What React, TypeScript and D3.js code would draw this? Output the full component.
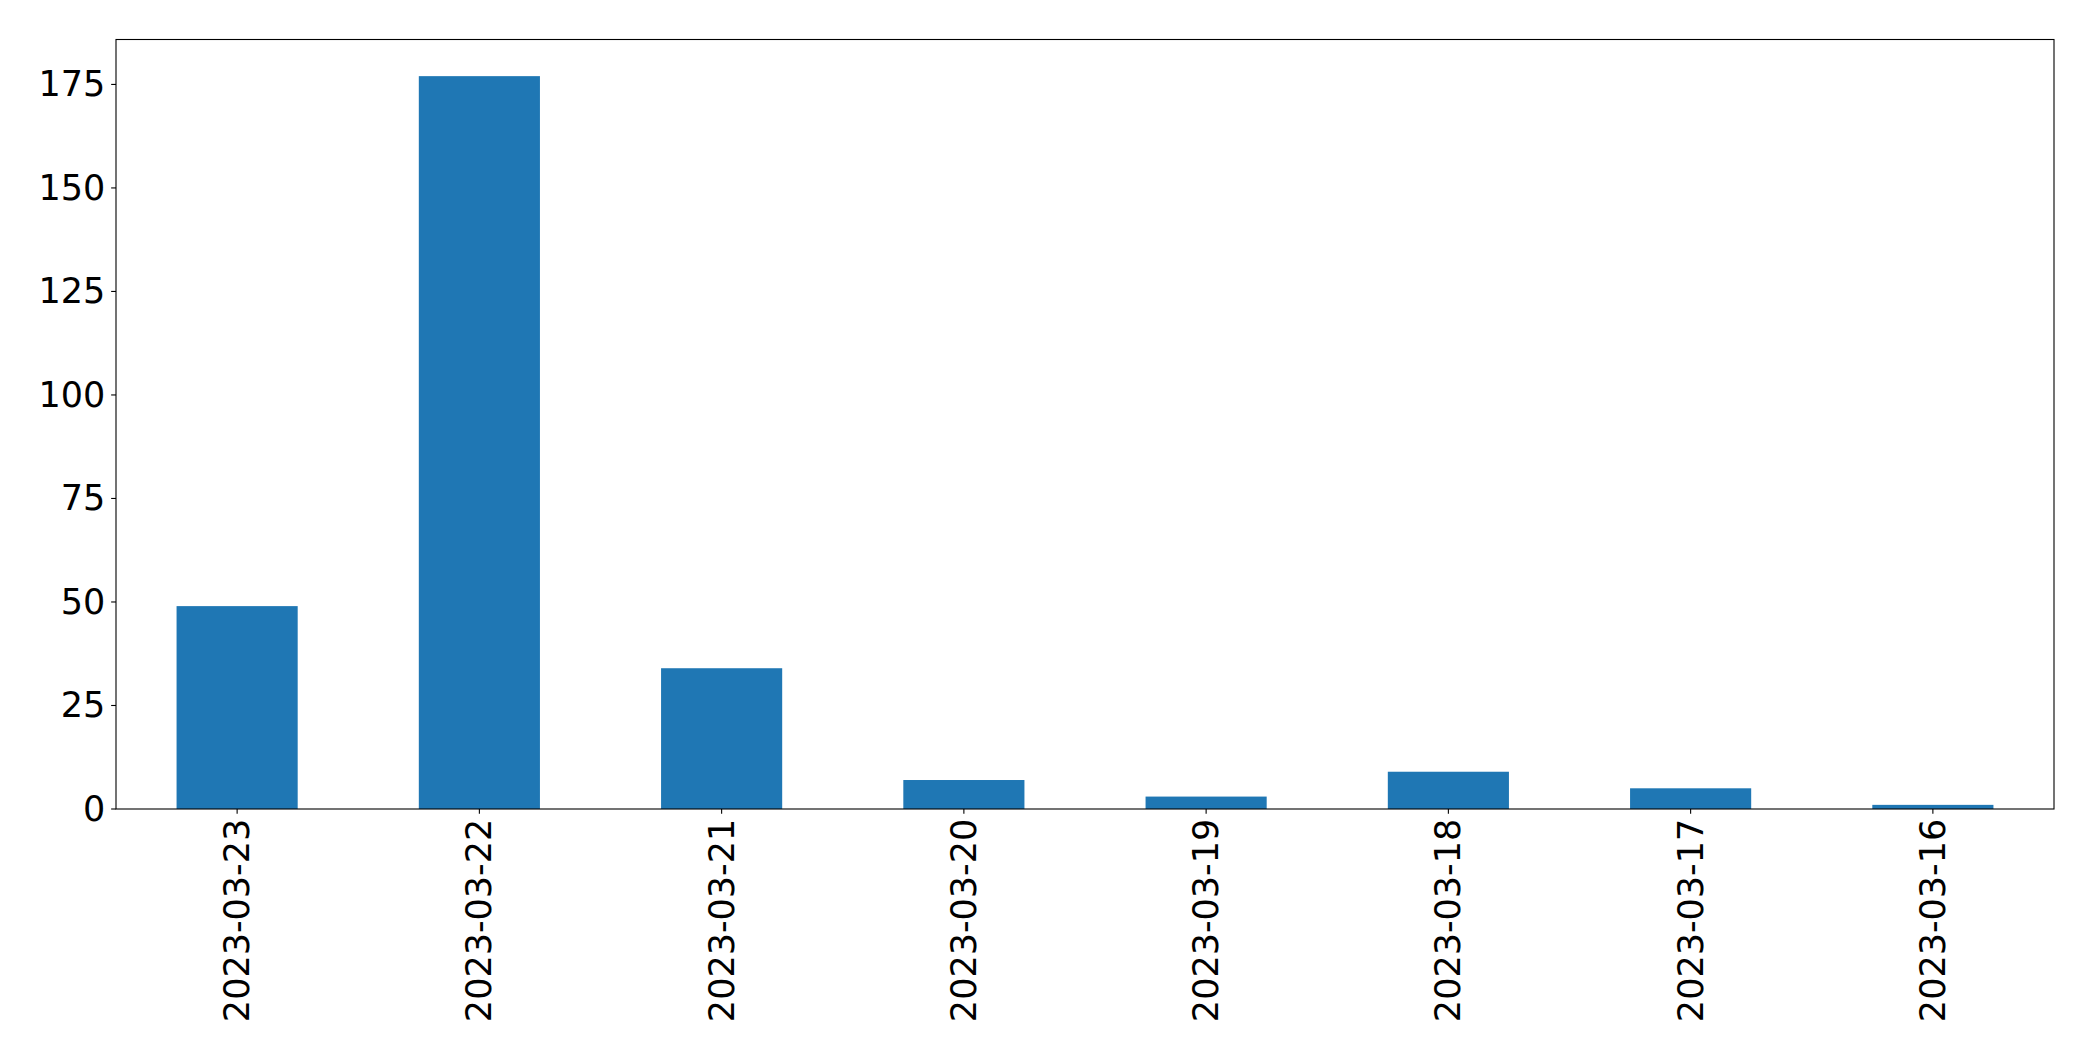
import React from "react";
import * as d3 from "d3";

const categories = ["2023-03-23", "2023-03-22", "2023-03-21", "2023-03-20", "2023-03-19", "2023-03-18", "2023-03-17", "2023-03-16"];
const values = [49, 177, 34, 7, 3, 9, 5, 1];
const yTicks = [0, 25, 50, 75, 100, 125, 150, 175];

const W = 2093;
const H = 1061;
const M = { left: 116, top: 39.5, right: 2054, bottom: 809 };
const FONT = "'DejaVu Sans', sans-serif";
const FS = 35;
const TICK = 4.86;
const PAD = 4.86;

export default function App() {
  const x = d3.scaleBand<string>().domain(categories).range([M.left, M.right]).paddingInner(0.5).paddingOuter(0.25);
  const yMax = d3.max(values)! * 1.05;
  const y = d3.scaleLinear().domain([0, yMax]).range([M.bottom, M.top]);
  return (
    <svg width={W} height={H} style={{ position: "absolute", left: 0, top: 0, background: "#fff" }}>
      {categories.map((c, i) => (
        <rect key={c} x={x(c)!} y={y(values[i])} width={x.bandwidth()} height={y(0) - y(values[i])} fill="#1f77b4" />
      ))}
      <rect x={M.left} y={M.top} width={M.right - M.left} height={M.bottom - M.top} fill="none" stroke="#000" strokeWidth={1.1} />
      {yTicks.map((t) => (
        <g key={t}>
          <line x1={M.left - TICK} x2={M.left} y1={y(t)} y2={y(t)} stroke="#000" strokeWidth={1.1} />
          <text x={M.left - TICK - PAD - 1} y={y(t)} textAnchor="end" dominantBaseline="central" fontFamily={FONT} fontSize={FS}>{t}</text>
        </g>
      ))}
      {categories.map((c) => {
        const cx = x(c)! + x.bandwidth() / 2;
        const ty = M.bottom + TICK + PAD;
        return (
          <g key={c}>
            <line x1={cx} x2={cx} y1={M.bottom} y2={M.bottom + TICK} stroke="#000" strokeWidth={1.1} />
            <text transform={`translate(${cx},${ty}) rotate(-90)`} textAnchor="end" dominantBaseline="central" fontFamily={FONT} fontSize={FS}>{c}</text>
          </g>
        );
      })}
    </svg>
  );
}
